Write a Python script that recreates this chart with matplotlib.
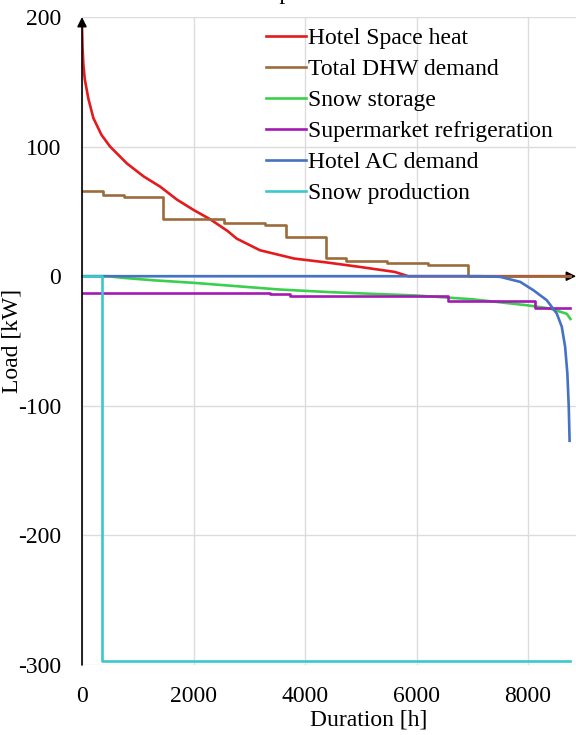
import matplotlib
matplotlib.use("Agg")
import matplotlib.pyplot as plt

plt.rcParams['font.family'] = ['Liberation Serif', 'DejaVu Serif']
plt.rcParams['axes.unicode_minus'] = False

# Hotel space heating load duration curve
heat_hours = [0, 10, 25, 50, 114, 204, 350, 504, 805, 1105, 1405, 1706, 2006,
              2296, 2607, 2775, 3193, 3807, 4408, 5009, 5609, 5850, 8760]
heat_kw = [192, 176, 163, 152, 137, 122, 109, 100, 87, 77, 69, 59, 51,
           44, 35, 29, 20, 13.6, 10.5, 7, 3.3, 0, 0]

# Total domestic hot water demand (step curve, value holds until next hour)
dhw_hours = [0, 384, 745, 1460, 2547, 3283, 3654, 4370, 4732, 5465, 6200, 6930, 8760]
dhw_kw = [66, 63, 61, 44.5, 41, 39.4, 30.4, 14.4, 11.8, 10.5, 8.5, 0, 0]

# Snow storage
storage_hours = [0, 450, 800, 1300, 1997, 2800, 3552, 4448, 5200, 6003, 7000,
                 7977, 8400, 8694, 8760]
storage_kw = [0, 0, -1.5, -3.2, -5.1, -7.8, -10.3, -12.3, -13.6, -14.9, -17.8,
              -22.4, -25, -29, -33]

# Supermarket refrigeration (step curve)
refrig_hours = [0, 3372, 3730, 6558, 8124, 8760]
refrig_kw = [-12.6, -13.6, -15.1, -19.1, -24.7, -24.7]

# Hotel air conditioning demand
ac_hours = [0, 7140, 7500, 7860, 8095, 8335, 8515, 8605, 8665, 8705, 8730, 8745]
ac_kw = [0, 0, -0.5, -4.4, -10.8, -18.5, -28.8, -39, -54.5, -75, -100.8, -127]

# Snow production
snowprod_hours = [0, 360, 360, 8760]
snowprod_kw = [0, 0, -297, -297]

series = [
    ("Hotel Space heat", heat_hours, heat_kw, "#e41a1c", "default"),
    ("Total DHW demand", dhw_hours, dhw_kw, "#9c6b3c", "steps-post"),
    ("Snow storage", storage_hours, storage_kw, "#3ccf4e", "default"),
    ("Supermarket refrigeration", refrig_hours, refrig_kw, "#a419b4", "steps-post"),
    ("Hotel AC demand", ac_hours, ac_kw, "#4472c4", "default"),
    ("Snow production", snowprod_hours, snowprod_kw, "#3cc8cc", "default"),
]

x_ticks = [0, 2000, 4000, 6000, 8000]
y_ticks = [-300, -200, -100, 0, 100, 200]

FS = 17

fig = plt.figure(figsize=(5.76, 7.35), dpi=100)
ax = fig.add_axes([82 / 576, 70 / 735, 494 / 576, 648 / 735])
ax.set_xlim(0, 8860)
ax.set_ylim(-300, 200)

for label, xs, ys, color, ds in series:
    ax.plot(xs, ys, color=color, lw=1.9, drawstyle=ds, label=label, zorder=3)

for s in ax.spines.values():
    s.set_visible(False)

ax.set_xticks(x_ticks)
ax.set_yticks(y_ticks)
ax.grid(True, color="#dcdcdc", lw=1.0, zorder=0)
ax.tick_params(length=0, labelsize=FS)
ax.tick_params(axis="y", pad=15)
ax.tick_params(axis="x", pad=15)

# axes drawn as arrows through the origin
ax.annotate("", xy=(0, 200), xytext=(0, -300),
            arrowprops=dict(arrowstyle="-|>", color="black", lw=1.2,
                            mutation_scale=14, shrinkA=0, shrinkB=0), zorder=4)
ax.annotate("", xy=(8860, 0), xytext=(0, 0),
            arrowprops=dict(arrowstyle="-|>", color="black", lw=1.2,
                            mutation_scale=14, shrinkA=0, shrinkB=0), zorder=2)

ax.set_xlabel("Duration [h]", fontsize=FS, va="center")
ax.xaxis.set_label_coords(0.581, -0.085)
ax.set_ylabel("Load [kW]", fontsize=FS, va="center")
ax.yaxis.set_label_coords(-0.142, 0.5)

leg = ax.legend(loc="upper left", bbox_to_anchor=(0.35, 1.0), frameon=False,
                fontsize=FS, handlelength=1.7, handletextpad=0.1,
                labelspacing=0.4, borderaxespad=0.05)

fig.text(225 / 576, 1 + 1 / 735, "Load profiles", fontsize=FS, ha="left",
         va="baseline")

fig.savefig("out.png", dpi=100)
